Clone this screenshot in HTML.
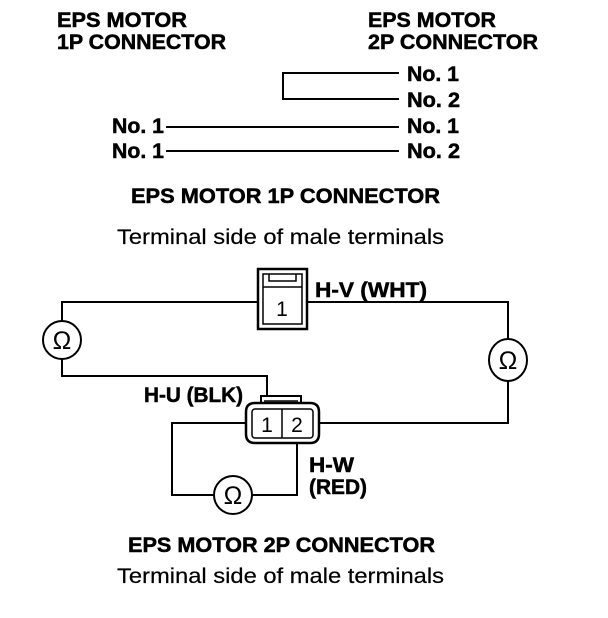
<!DOCTYPE html>
<html><head><style>
html,body{margin:0;padding:0;background:#fff;}
svg{display:block;}
text{font-family:"Liberation Sans",sans-serif;fill:#000;}
.b{font-weight:bold;font-size:21px;stroke:#000;stroke-width:0.5px;}
.r{font-size:21px;stroke:#000;stroke-width:0.2px;}
</style></head><body>
<svg width="608" height="618" viewBox="0 0 608 618" xmlns="http://www.w3.org/2000/svg">
<g class="b">
<text x="57" y="27" textLength="130" lengthAdjust="spacingAndGlyphs">EPS MOTOR</text>
<text x="57" y="49" textLength="169" lengthAdjust="spacingAndGlyphs">1P CONNECTOR</text>
<text x="368" y="27" textLength="128" lengthAdjust="spacingAndGlyphs">EPS MOTOR</text>
<text x="368" y="49" textLength="170" lengthAdjust="spacingAndGlyphs">2P CONNECTOR</text>
<text x="407" y="81" textLength="52" lengthAdjust="spacingAndGlyphs">No. 1</text>
<text x="407" y="107" textLength="53" lengthAdjust="spacingAndGlyphs">No. 2</text>
<text x="407" y="133" textLength="52" lengthAdjust="spacingAndGlyphs">No. 1</text>
<text x="407" y="158" textLength="53" lengthAdjust="spacingAndGlyphs">No. 2</text>
<text x="112" y="133" textLength="52" lengthAdjust="spacingAndGlyphs">No. 1</text>
<text x="112" y="158" textLength="52" lengthAdjust="spacingAndGlyphs">No. 1</text>
<text x="131" y="203" textLength="309" lengthAdjust="spacingAndGlyphs">EPS MOTOR 1P CONNECTOR</text>
<text x="315" y="297" textLength="112" lengthAdjust="spacingAndGlyphs">H-V (WHT)</text>
<text x="144" y="402" textLength="99" lengthAdjust="spacingAndGlyphs">H-U (BLK)</text>
<text x="309" y="472" textLength="45" lengthAdjust="spacingAndGlyphs">H-W</text>
<text x="309" y="494" textLength="58" lengthAdjust="spacingAndGlyphs">(RED)</text>
<text x="128" y="552" textLength="307" lengthAdjust="spacingAndGlyphs">EPS MOTOR 2P CONNECTOR</text>
</g>
<g class="r">
<text x="117" y="244" textLength="327" lengthAdjust="spacingAndGlyphs">Terminal side of male terminals</text>
<text x="117" y="583" textLength="327" lengthAdjust="spacingAndGlyphs">Terminal side of male terminals</text>
</g>
<g stroke="#000" stroke-width="2" fill="none">
<polyline points="399,73 283,73 283,99 399,99"/>
<line x1="166" y1="127" x2="399" y2="127"/>
<line x1="166" y1="151" x2="399" y2="151"/>
<rect x="258" y="269" width="49" height="60" stroke-width="2.5"/>
<rect x="263" y="274" width="39" height="50" stroke-width="1.5"/>
<polyline points="269,274 269,281 296,281 296,274" stroke-width="1.5"/>
<line x1="263" y1="287" x2="302" y2="287" stroke-width="1.5"/>
<polyline points="258,302 62,302 62,321"/>
<polyline points="62,359 62,376 267,376 267,395"/>
<polyline points="307,302 508,302 508,339"/>
<polyline points="508,381 508,423 319,423"/>
<polyline points="246,423 172,423 172,495 214,495"/>
<polyline points="252,495 297,495 297,443"/>
<ellipse cx="62" cy="340" rx="19" ry="19"/>
<ellipse cx="508" cy="360" rx="19" ry="21"/>
<ellipse cx="233" cy="495" rx="19" ry="19"/>
<path d="M261,403 L261,396 L301,396 L301,403" stroke-width="2"/>
<line x1="264" y1="401" x2="298" y2="401" stroke-width="1.5"/>
<path d="M255,403 L310,403 Q319,403 319,412 L319,434 Q319,443 310,443 L255,443 Q246,443 246,434 L246,412 Q246,403 255,403 Z" stroke-width="2.5"/>
<rect x="252" y="409" width="61" height="29" rx="3" stroke-width="1.5"/>
<line x1="282" y1="409" x2="282" y2="438" stroke-width="1.5"/>
</g>
<g style="font-family:'Liberation Sans',sans-serif;" font-size="21">
<text x="282" y="316" text-anchor="middle">1</text>
<text x="267" y="432" text-anchor="middle">1</text>
<text x="297" y="432" text-anchor="middle">2</text>
<text x="62" y="349" text-anchor="middle" font-size="25">Ω</text>
<text x="508" y="369" text-anchor="middle" font-size="25">Ω</text>
<text x="233" y="504" text-anchor="middle" font-size="25">Ω</text>
</g>
</svg>
</body></html>
